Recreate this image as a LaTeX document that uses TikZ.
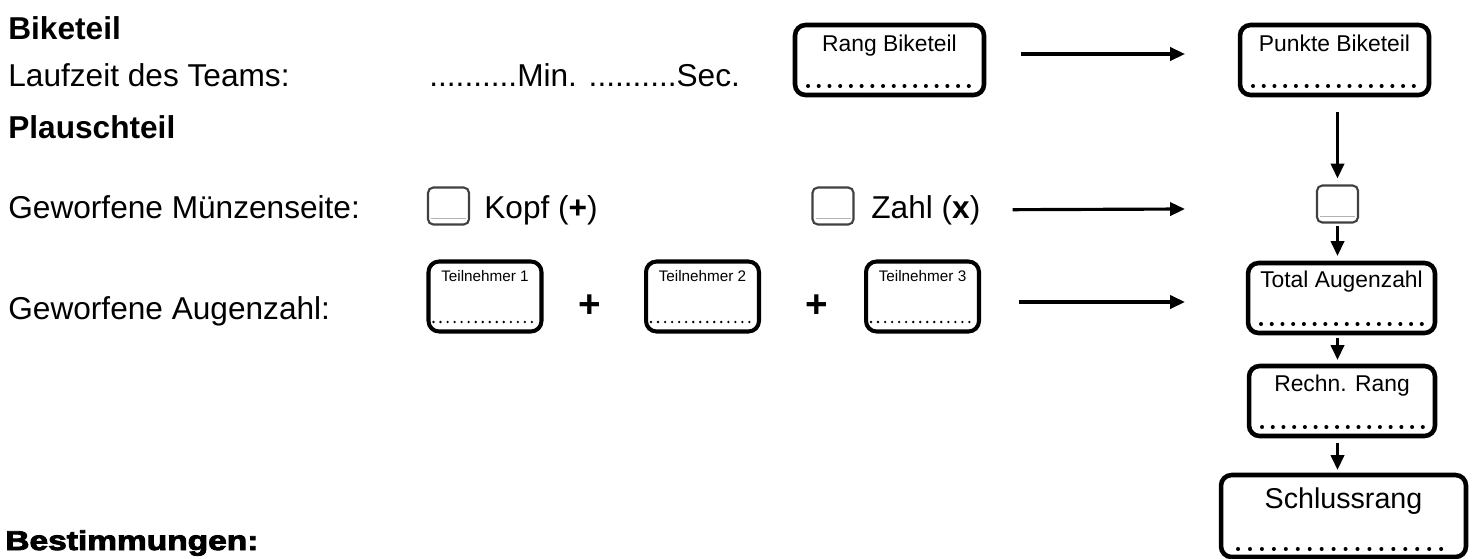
\documentclass[tikz,border=0pt]{standalone}
\usepackage{fontspec}
\setmainfont{Liberation Sans}
\newfontfamily\heavyfont{Liberation Sans Bold}[FakeBold=3]
\usepackage{tikz}
\usetikzlibrary{arrows.meta,positioning}

\begin{document}
\begin{tikzpicture}[x=0.02cm,y=-0.02cm]
	\tikzstyle{txt}=[anchor=base west,inner sep=0pt,font=\fontsize{18}{21}\selectfont]
	\tikzstyle{head}=[anchor=base west,inner sep=0pt,font=\fontsize{18}{21}\selectfont\bfseries]
	\tikzstyle{field}=[draw=black,line width=2.6pt,rounded corners=6pt,inner sep=0pt,outer sep=0pt,minimum width=3.78cm,minimum height=1.4cm]
	\tikzstyle{tfield}=[field,line width=2.3pt,minimum width=2.26cm]
	\tikzstyle{check}=[draw=black!75,line width=1.2pt,rounded corners=3pt,inner sep=0pt,outer sep=0pt,minimum width=0.82cm,minimum height=0.74cm]
	\tikzstyle{lbl}=[inner sep=0pt,font=\fontsize{13}{15}\selectfont]
	\tikzstyle{tlbl}=[inner sep=0pt,font=\fontsize{8.7}{10}\selectfont]
	\tikzstyle{dots}=[line width=2.3pt,line cap=round,dash pattern=on 0pt off 6.1pt]
	\tikzstyle{tdots}=[line width=1.5pt,line cap=round,dash pattern=on 0pt off 4pt]
	\tikzstyle{plus}=[anchor=base,inner sep=0pt,font=\fontsize{22}{24}\selectfont\bfseries]
	\tikzstyle{arr}=[line width=1.8pt,-{Triangle[length=8.5pt,width=7.5pt]}]

	\useasboundingbox (0,0) rectangle (1480,558);

	% left column
	\node[head] (bike) at (8,39) {Biketeil};
	\node[txt] (lauf) at (8,86) {Laufzeit des Teams:};
	\node[txt] (zeit) at (429,86) {..........Min. ..........Sec.};
	\node[head] (plausch) at (8,138) {Plauschteil};
	\node[txt] (muenz) at (8,218) {Geworfene Münzenseite:};
	\node[txt] (augen) at (8,319) {Geworfene Augenzahl:};
	\node[anchor=base west,inner sep=0pt] (best) at (5,550) {\scalebox{1.23}[1]{\heavyfont\fontsize{15.5}{18}\selectfont Bestimmungen:}};

	% coin
	\node[check] (kopfbox) at (448.5,206) {};
	\node[txt] (kopf) at (484,218) {Kopf (\textbf{+})};
	\node[check] (zahlbox) at (833,206) {};
	\node[txt] (zahl) at (871,218) {Zahl (\textbf{x})};

	% dice
	\foreach \i/\x in {1/485,2/702.5,3/922.5}{
		\node[tfield] (t\i) at (\x,296.5) {};
		\node[tlbl,below=0.18cm of t\i.north] {Teilnehmer \i};
		\draw[tdots] ([xshift=0.1cm,yshift=0.19cm]t\i.south west) -- ([xshift=-0.08cm,yshift=0.19cm]t\i.south east);
	}
	\node[plus] (p1) at (590,317) {+};
	\node[plus] (p2) at (817,317) {+};

	% right column
	\node[field] (rang) at (889.5,60) {};
	\node[field] (punkte) at (1334.5,60) {};
	\node[check] (chk) at (1337.5,204) {};
	\node[field,minimum width=3.74cm] (total) at (1341.5,298) {};
	\node[field,minimum width=3.72cm] (rechn) at (1342,401) {};
	\node[field,minimum width=4.9cm,minimum height=1.64cm] (schluss) at (1343.5,516) {};

	\node[lbl,below=0.2cm of rang.north] {Rang Biketeil};
	\node[lbl,below=0.2cm of punkte.north] {Punkte Biketeil};
	\node[lbl,below=0.16cm of total.north] {Total Augenzahl};
	\node[lbl,below=0.18cm of rechn.north] {Rechn. Rang};
	\node[lbl,below=0.24cm of schluss.north,font=\fontsize{16.3}{18}\selectfont] {Schlussrang};

	\foreach \n in {rang,punkte,total,rechn}
		\draw[dots] ([xshift=0.26cm,yshift=0.18cm]\n.south west) -- ([xshift=-0.22cm,yshift=0.18cm]\n.south east);
	\draw[dots,dash pattern=on 0pt off 6.8pt] ([xshift=0.34cm,yshift=0.16cm]schluss.south west) -- ([xshift=-0.26cm,yshift=0.16cm]schluss.south east);

	\foreach \n in {kopfbox,zahlbox,chk}
		\draw[gray!60,line width=0.6pt] ([xshift=0.06cm,yshift=0.12cm]\n.south west) -- ([xshift=-0.06cm,yshift=0.12cm]\n.south east);

	% arrows
	\coordinate (chkin) at (1185,209);
	\coordinate (totalin) at (1185,302);
	\draw[arr,shorten <=0.74cm,shorten >=1.1cm] ([yshift=0.12cm]rang.east) -- ([yshift=0.12cm]punkte.west);
	\draw[arr,shorten <=0.64cm] (zahl.east) -- (chkin);
	\draw[arr,shorten <=0.8cm] (t3.east |- totalin) -- (totalin);
	\draw[arr,shorten <=0.34cm,shorten >=0.14cm] (chk.north |- punkte.south) -- (chk.north);
	\draw[arr,shorten <=0.07cm,shorten >=0.14cm] (chk.south) -- (chk.south |- total.north);
	\draw[arr,shorten <=0.1cm,shorten >=0.12cm] (chk.south |- total.south) -- (chk.south |- rechn.north);
	\draw[arr,shorten <=0.14cm,shorten >=0.1cm] (chk.south |- rechn.south) -- (chk.south |- schluss.north);
\end{tikzpicture}
\end{document}
